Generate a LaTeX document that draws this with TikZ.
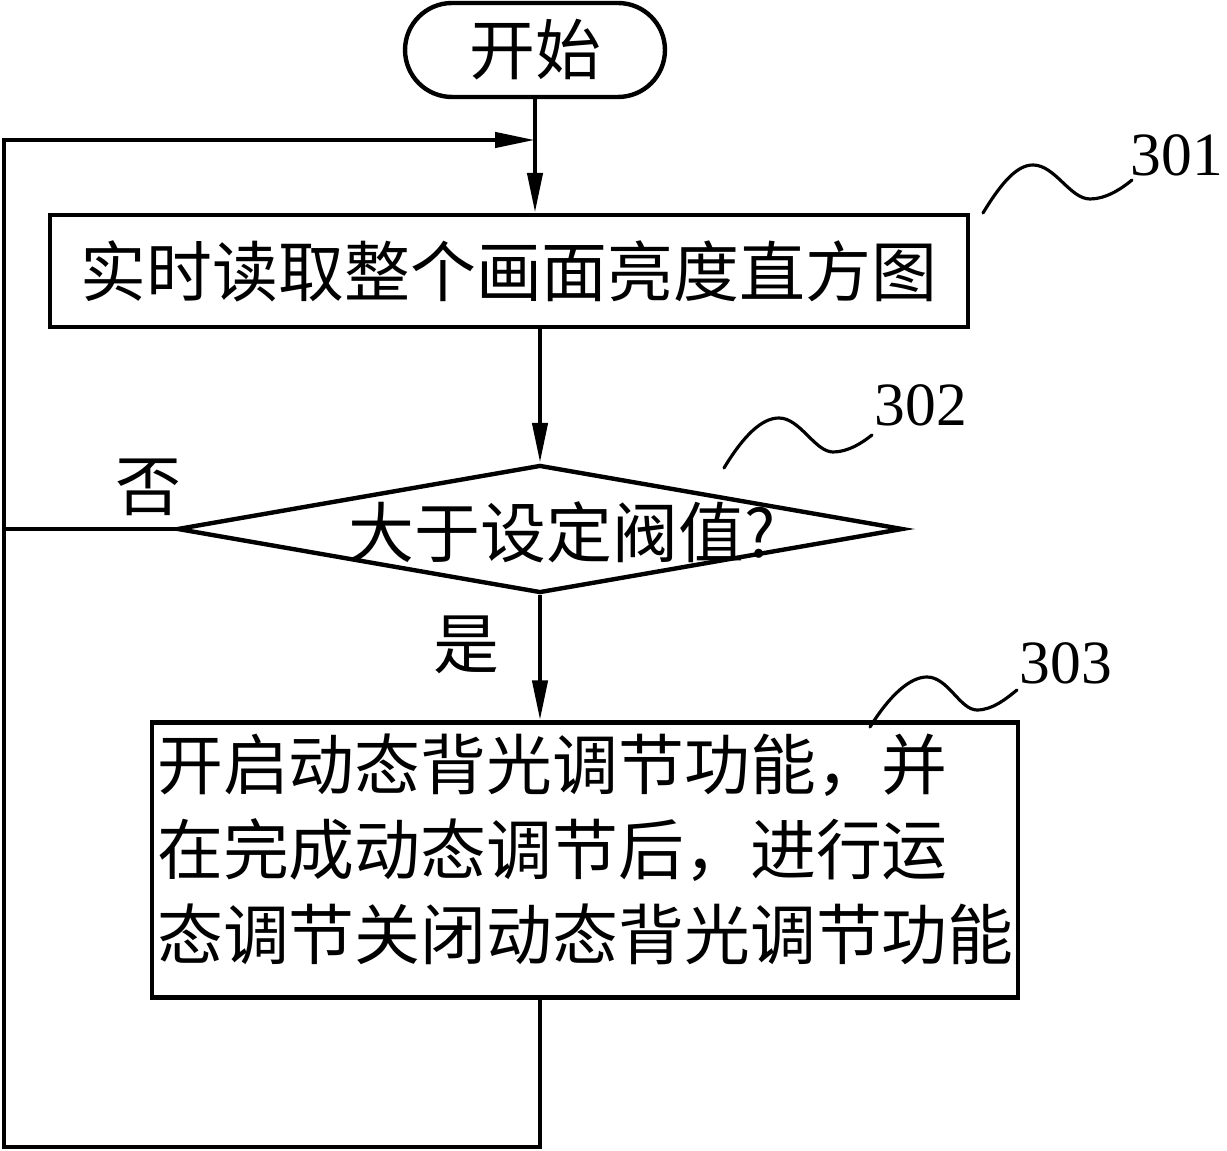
\documentclass[tikz,border=0pt]{standalone}
\usepackage{fontspec}
\newfontfamily\cjk{Noto Sans CJK SC}
\newfontfamily\numfont{Liberation Serif}
\usetikzlibrary{arrows.meta,shapes.geometric,shapes.misc}

\begin{document}
\begin{tikzpicture}[x=0.02cm, y=-0.02cm, line width=2.5pt,
		box/.style={draw, rectangle, inner sep=0pt},
		txt/.style={font=\cjk\fontsize{37.5}{48.2}\selectfont, inner sep=0pt},
		num/.style={font=\numfont\fontsize{35}{40}\selectfont, inner sep=0pt},
		flow/.style={-{Triangle[length=0.8cm, width=0.3cm]}},
		lead/.style={line width=1.8pt, line cap=round}]
			\useasboundingbox (0,0) rectangle (1227,1151);
			% blocks
			\node[draw, rounded rectangle, minimum width=5.2cm, minimum height=1.88cm, txt] (start) at (535,50) {开始};
			\node[box, minimum width=18.36cm, minimum height=2.24cm, txt] (read) at (509,271) {实时读取整个画面亮度直方图};
			\node[draw, diamond, inner sep=0pt, minimum width=14.52cm, minimum height=2.56cm] (judge) at (540,529) {};
			\node[txt] (judgetxt) at (562,532) {大于设定阀值?};
			\node[box, minimum width=17.32cm, minimum height=5.5cm] (act) at (585,860) {};
			\node[txt, anchor=north west, align=left] (acttxt) at (155,732) {开启动态背光调节功能，并\\在完成动态调节后，进行运\\态调节关闭动态背光调节功能};
			\node[txt] (no) at (148,487) {否};
			\node[txt] (yes) at (466,645) {是};
			% reference numbers
			\node[num] (n301) at (1177,155) {301};
			\node[num] (n302) at (921,405) {302};
			\node[num] (n303) at (1066,663) {303};
			\draw[lead] (983,213) .. controls (1003,180) and (1018,165) .. (1033,165) .. controls (1055,165) and (1070,199) .. (1090,199) .. controls (1105,199) and (1120,190) .. (1132,180);
			\draw[lead] (724,468) .. controls (744,435) and (762,418) .. (779,418) .. controls (800,418) and (815,452) .. (833,452) .. controls (848,452) and (862,443) .. (872,435);
			\draw[lead] (870,727) .. controls (890,695) and (910,677) .. (927,677) .. controls (948,677) and (960,710) .. (977,710) .. controls (993,710) and (1007,698) .. (1017,690);
			% flow lines
			\coordinate (lb) at (4,1147);
			\coordinate (lt) at (4,140);
			\draw[flow] (start.south) -- (start.south |- read.north);
			\draw[flow] (read.south -| judge.north) -- (judge.north);
			\draw[flow] (judge.south) -- (judge.south |- act.north);
			\draw[flow] (act.south -| judge.south) -- (lb -| judge.south) -- (lb) -- (lt) -- (lt -| start.south);
			\draw (judge.west) -- (judge.west -| lb);
		\end{tikzpicture}
\end{document}
